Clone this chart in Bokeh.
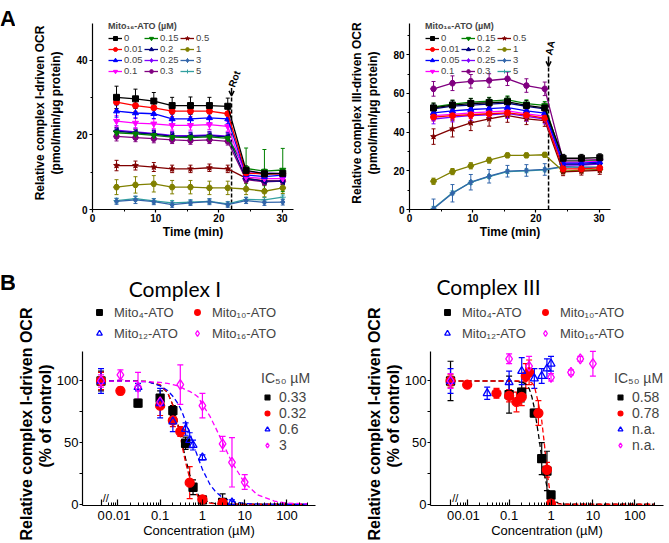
import math
from bokeh.plotting import figure
from bokeh.models import (ColumnDataSource, Whisker, TeeHead, Legend, LegendItem, Label, Title,
                          FixedTicker, Range1d, Arrow, OpenHead)
from bokeh.layouts import row, column
from bokeh.embed import file_html
from bokeh.resources import INLINE

FONT = "Liberation Sans"

# ---------------- Panel A data: OCR traces (pmol/min/ug protein) ----------------
times = [3.8, 6.8, 9.7, 12.6, 15.5, 18.5, 21.4, 24.3, 27.2, 30.1]
doses = ["0", "0.01", "0.05", "0.1", "0.15", "0.2", "0.25", "0.3", "0.5", "1", "3", "5"]
rot_time = 22.0
rot_top = 30.5
aa_time = 22.0
aa_top = 74.0

# complex I-driven OCR
ocr1_d0 = [30.1, 29.7, 29.1, 27.9, 27.9, 27.9, 27.7, 10.5, 9.6, 9.7]
ocr1_d001 = [28.8, 27.9, 27.3, 26.4, 26.4, 26.4, 25.7, 9.8, 9.5, 9.6]
ocr1_d005 = [26.4, 25.9, 25.7, 24.3, 24.3, 24.6, 24.3, 9.3, 8.8, 9.2]
ocr1_d01 = [23.7, 23.2, 23.0, 22.6, 22.6, 22.8, 22.3, 8.7, 8.3, 8.3]
ocr1_d015 = [20.6, 20.3, 19.9, 19.4, 19.3, 19.5, 19.1, 11.0, 10.3, 10.6]
ocr1_d02 = [21.0, 20.6, 20.2, 19.7, 19.6, 19.8, 19.5, 8.3, 7.6, 7.6]
ocr1_d025 = [21.3, 20.8, 20.4, 19.9, 19.8, 20.0, 19.7, 10.2, 9.8, 9.6]
ocr1_d03 = [19.6, 19.3, 19.0, 18.7, 18.5, 18.7, 18.3, 8.0, 7.4, 7.6]
ocr1_d05 = [11.8, 11.8, 11.4, 10.9, 10.9, 11.2, 10.9, 8.4, 7.7, 7.7]
ocr1_d1 = [6.0, 6.6, 6.9, 6.0, 6.0, 5.8, 5.8, 5.5, 4.9, 5.8]
ocr1_d3 = [2.2, 2.6, 2.1, 1.3, 1.8, 2.1, 1.3, 2.4, 1.9, 2.0]
ocr1_d5 = [2.4, 2.9, 2.3, 1.8, 2.0, 2.2, 1.5, 2.7, 2.6, 3.3]

sd1_d0 = [3.0, 2.6, 2.3, 2.2, 2.3, 2.2, 2.2, 1.2, 1.2, 1.2]
sd1_d001 = [1.8, 1.6, 1.5, 1.5, 1.5, 1.5, 1.5, 1.0, 1.0, 1.0]
sd1_d005 = [1.6, 1.4, 1.3, 1.3, 1.3, 1.3, 1.3, 1.0, 1.0, 1.0]
sd1_d01 = [1.5, 1.4, 1.3, 1.3, 1.3, 1.3, 1.3, 1.0, 0.9, 0.9]
sd1_d015 = [1.2, 1.1, 1.0, 1.0, 1.0, 1.0, 1.0, 5.5, 5.8, 5.8]
sd1_d02 = [1.0, 1.0, 1.0, 1.0, 1.0, 1.0, 1.0, 0.8, 0.8, 0.8]
sd1_d025 = [1.2, 1.1, 1.0, 1.0, 1.0, 1.0, 1.0, 0.9, 0.9, 0.9]
sd1_d03 = [1.2, 1.1, 1.1, 1.0, 1.0, 1.0, 1.0, 0.9, 0.9, 0.9]
sd1_d05 = [1.4, 1.2, 1.2, 1.0, 1.0, 1.0, 1.0, 1.0, 1.0, 1.0]
sd1_d1 = [2.0, 2.2, 2.2, 1.8, 1.8, 1.8, 1.8, 1.5, 1.5, 1.5]
sd1_d3 = [0.8, 1.0, 0.8, 0.7, 0.7, 0.8, 0.7, 0.8, 0.8, 0.8]
sd1_d5 = [0.6, 0.6, 0.6, 0.6, 0.6, 0.6, 0.6, 0.6, 0.6, 0.6]

# complex III-driven OCR
ocr3_d0 = [52.5, 54.0, 54.8, 55.2, 55.7, 53.8, 52.5, 26.5, 26.5, 26.8]
ocr3_d001 = [47.8, 48.5, 49.0, 49.5, 50.0, 48.8, 47.3, 21.0, 21.0, 21.5]
ocr3_d005 = [50.0, 51.0, 51.7, 52.2, 52.7, 51.0, 49.8, 24.0, 24.0, 24.5]
ocr3_d01 = [48.5, 49.2, 50.0, 50.5, 51.0, 49.5, 48.3, 24.5, 24.5, 25.0]
ocr3_d015 = [53.0, 54.5, 55.5, 56.0, 56.7, 54.7, 53.8, 25.0, 25.0, 25.3]
ocr3_d02 = [52.0, 53.5, 54.0, 54.5, 55.0, 53.3, 52.0, 23.5, 23.5, 23.8]
ocr3_d025 = [46.8, 47.8, 48.6, 49.0, 49.6, 48.2, 46.8, 23.0, 23.0, 23.5]
ocr3_d03 = [62.4, 65.3, 66.3, 66.7, 67.6, 64.1, 62.4, 25.5, 25.5, 25.8]
ocr3_d05 = [37.7, 41.7, 44.8, 46.9, 48.6, 46.9, 46.0, 19.5, 19.8, 20.2]
ocr3_d1 = [14.6, 19.6, 22.6, 25.5, 28.0, 28.0, 28.3, 19.8, 20.3, 20.8]
ocr3_d3 = [0.4, 8.4, 14.1, 17.2, 19.8, 20.2, 20.7, 22.2, 21.9, 21.9]
ocr3_d5 = [0.6, 8.6, 14.0, 17.0, 19.6, 20.0, 20.5, 22.0, 21.8, 21.8]

sd3_d0 = [2.5, 2.5, 2.5, 2.5, 2.5, 2.5, 2.5, 2.0, 2.0, 2.0]
sd3_d001 = [2.0, 2.0, 2.0, 2.0, 2.0, 2.0, 2.0, 1.5, 1.5, 1.5]
sd3_d005 = [2.0, 2.0, 2.0, 2.0, 2.0, 2.0, 2.0, 1.5, 1.5, 1.5]
sd3_d01 = [2.5, 2.5, 2.5, 2.5, 2.5, 2.5, 2.5, 1.5, 1.5, 1.5]
sd3_d015 = [2.0, 2.0, 2.0, 2.0, 2.0, 2.0, 2.0, 1.5, 1.5, 1.5]
sd3_d02 = [2.0, 2.0, 2.0, 2.0, 2.0, 2.0, 2.0, 1.5, 1.5, 1.5]
sd3_d025 = [2.5, 2.5, 2.5, 2.5, 2.5, 2.5, 2.5, 1.5, 1.5, 1.5]
sd3_d03 = [3.8, 3.8, 3.5, 3.5, 3.5, 3.5, 3.5, 2.0, 2.0, 2.0]
sd3_d05 = [4.0, 4.2, 4.0, 3.8, 3.5, 3.0, 3.0, 2.0, 2.0, 2.0]
sd3_d1 = [1.6, 1.6, 1.6, 1.5, 1.2, 1.2, 1.2, 1.0, 1.0, 1.0]
sd3_d3 = [5.0, 4.5, 4.0, 3.5, 3.0, 3.0, 3.0, 1.0, 1.0, 1.0]
sd3_d5 = [1.0, 1.0, 1.0, 1.0, 1.0, 1.0, 1.0, 1.0, 1.0, 1.0]

# ---------------- Panel B data: dose response (% of control) ----------------
CTRL = 0.004  # position used for the "0" (control) concentration
b_names = ["Mito\u2084-ATO", "Mito\u2081\u2080-ATO", "Mito\u2081\u2082-ATO", "Mito\u2081\u2086-ATO"]
ic50_ci = ["0.33", "0.32", "0.6", "3"]
ic50_ciii = ["0.58", "0.78", "n.a.", "n.a."]
b_ticks = [CTRL, 0.01, 0.1, 1, 10, 100]
b_tick_labels = ["0", "0.01", "0.1", "1", "10", "100"]

ci_m4_x = [CTRL, 0.03, 0.1, 0.2, 0.4, 0.6, 1.0, 3.0]
ci_m4_y = [100, 82, 86, 76, 49.5, 13.8, 3.5, 1.5]
ci_m4_e = [8, 3, 6, 4, 5, 6, 3, 7]
ci_m10_x = [CTRL, 0.0115, 0.1, 0.2, 0.3, 0.5, 1.0, 3.0]
ci_m10_y = [100, 92, 80, 68, 59, 17.5, 4, 1.2]
ci_m10_e = [7, 3, 8, 5, 4, 13, 3, 2]
ci_m12_x = [CTRL, 0.03, 0.1, 0.2, 0.4, 0.5, 0.6, 1.0, 5.0]
ci_m12_y = [100, 95, 82, 67, 61, 52, 48, 38, 1.5]
ci_m12_e = [10, 3, 12, 8, 5, 6, 4, 2, 2]
ci_m16_x = [CTRL, 0.0115, 0.03, 0.1, 0.3, 1.0, 3.0, 5.0, 10.0]
ci_m16_y = [100, 105, 95, 83, 97, 80, 49, 34, 18]
ci_m16_e = [5, 4, 12, 5, 16, 10, 6, 20, 6]

ciii_m4_x = [CTRL, 0.1, 0.2, 0.4, 0.6, 0.8, 1.0]
ciii_m4_y = [100, 89, 91, 74, 37, 27, 7.5]
ciii_m4_e = [16, 15, 8, 3, 13, 16, 3]
ciii_m10_x = [CTRL, 0.01, 0.05, 0.1, 0.15, 0.2, 0.25, 0.3, 0.5, 0.8, 1.0]
ciii_m10_y = [100, 97, 90, 88, 83, 87, 104, 107, 74, 28, 0.5]
ciii_m10_e = [5, 2, 4, 5, 8, 7, 10, 10, 10, 6, 2]
ciii_m12_x = [CTRL, 0.03, 0.1, 0.2, 0.4, 0.6, 0.8, 1.0]
ciii_m12_y = [100, 90, 99, 108, 102, 104, 110, 114]
ciii_m12_e = [10, 5, 9, 11, 8, 6, 8, 6]
ciii_m16_x = [CTRL, 0.1, 0.3, 1.0, 3.0, 5.0, 10.0]
ciii_m16_y = [100, 118, 112, 103, 107, 118, 114]
ciii_m16_e = [6, 4, 8, 3, 2, 2, 10]

# dashed fitted curves
fit_x = [CTRL, 0.01, 0.02, 0.05, 0.1, 0.15, 0.2, 0.25, 0.3, 0.35, 0.4, 0.5, 0.6, 0.7, 0.8,
         1, 1.5, 2, 3, 5, 10, 20, 50, 100, 300]
ci_fit_m4 = [100, 100, 100, 99.6, 96.5, 90.5, 80.5, 68.5, 57, 46, 37, 24, 16, 11, 7.5,
             4.4, 1.4, 0.6, 0.2, 0, 0, 0, 0, 0, 0]
ci_fit_m10 = [100, 100, 100, 99.6, 97, 90.6, 80.4, 67.6, 55, 43.3, 34, 21, 13, 9, 6,
              3.2, 1, 0.4, 0.1, 0, 0, 0, 0, 0, 0]
ci_fit_m12 = [100, 100, 99.9, 99.4, 96.1, 92.3, 87.6, 82.9, 77.9, 72.6, 67.2, 58.2, 50, 42.8, 37.3,
              28.3, 16.2, 10.6, 5.3, 2.3, 0.6, 0.2, 0, 0, 0]
ci_fit_m16 = [100, 99.9, 99.8, 99.5, 98.8, 98.0, 97.1, 96.2, 95.1, 94.0, 92.8, 91.6, 89.9, 88.4, 86.8,
              80.9, 71.5, 62.9, 50, 33.9, 17.3, 7.7, 2.6, 1.0, 0.3]
ciii_fit_m4 = [100, 100, 100, 100, 100, 99.8, 99.3, 97.5, 94, 87, 78, 57, 38, 24, 14,
               5, 0.8, 0.2, 0, 0, 0, 0, 0, 0, 0]
ciii_fit_m10 = [100, 100, 100, 100, 100, 100, 100, 99.8, 99.4, 98.5, 96, 82, 68, 48, 27,
                4, 0.3, 0, 0, 0, 0, 0, 0, 0, 0]

# ---------------- styles ----------------
dose_colors = ["#000000", "#ff0000", "#0000ff", "#ff00ff", "#008000", "#000080",
               "#8000ff", "#800080", "#800000", "#808000", "#3366aa", "#33a0a0"]
dose_markers = ["square", "circle", "triangle", "inverted_triangle", "inverted_triangle", "triangle",
                "diamond", "hex", "star", "hex", "diamond_cross", "cross"]
dose_angles = [0, 0, 0, 0, 0, math.pi / 2, 0, 0, 0, 0, 0, 0]
b_colors = ["#000000", "#ff0000", "#0000ff", "#ff00ff"]
b_markers = ["square", "circle", "triangle", "diamond"]
b_filled = [True, True, False, False]
b_sizes = [8, 9, 8, 10]

ocr1 = [ocr1_d0, ocr1_d001, ocr1_d005, ocr1_d01, ocr1_d015, ocr1_d02, ocr1_d025, ocr1_d03,
        ocr1_d05, ocr1_d1, ocr1_d3, ocr1_d5]
sd1 = [sd1_d0, sd1_d001, sd1_d005, sd1_d01, sd1_d015, sd1_d02, sd1_d025, sd1_d03,
       sd1_d05, sd1_d1, sd1_d3, sd1_d5]
ocr3 = [ocr3_d0, ocr3_d001, ocr3_d005, ocr3_d01, ocr3_d015, ocr3_d02, ocr3_d025, ocr3_d03,
        ocr3_d05, ocr3_d1, ocr3_d3, ocr3_d5]
sd3 = [sd3_d0, sd3_d001, sd3_d005, sd3_d01, sd3_d015, sd3_d02, sd3_d025, sd3_d03,
       sd3_d05, sd3_d1, sd3_d3, sd3_d5]


def base_fig(width, height, bl, br, bt, bb, xr, yr, xtype="linear"):
    p = figure(width=width, height=height, x_range=xr, y_range=yr, x_axis_type=xtype,
               toolbar_location=None, output_backend="svg", frame_align=False,
               min_border_left=bl, min_border_right=br, min_border_top=bt, min_border_bottom=bb)
    p.xgrid.visible = False
    p.ygrid.visible = False
    p.outline_line_color = None
    p.background_fill_color = "white"
    p.border_fill_color = "white"
    return p


def blank_fig(width, height):
    p = figure(width=width, height=height, x_range=Range1d(0, width), y_range=Range1d(0, height),
               toolbar_location=None, output_backend="svg", x_axis_location=None,
               y_axis_location=None, frame_align=False, min_border=0, min_border_left=0,
               min_border_right=0, min_border_top=0, min_border_bottom=0)
    p.xgrid.visible = False
    p.ygrid.visible = False
    p.outline_line_color = None
    p.background_fill_color = "white"
    p.border_fill_color = "white"
    return p


def style_axis(ax, size, bold, tin, tout, mtin, mtout, standoff):
    ax.axis_line_color = "black"
    ax.axis_line_width = 1.2
    ax.major_tick_line_color = "black"
    ax.major_tick_line_width = 1.2
    ax.minor_tick_line_color = "black"
    ax.minor_tick_line_width = 1
    ax.major_tick_in = tin
    ax.major_tick_out = tout
    ax.minor_tick_in = mtin
    ax.minor_tick_out = mtout
    ax.major_label_text_font = FONT
    ax.major_label_text_font_size = size
    ax.major_label_text_font_style = "bold" if bold else "normal"
    ax.major_label_text_color = "black"
    ax.major_label_standoff = standoff


def style_axis_label(ax, text, size, style, standoff):
    ax.axis_label = text
    ax.axis_label_text_font = FONT
    ax.axis_label_text_font_size = size
    ax.axis_label_text_font_style = style
    ax.axis_label_text_color = "black"
    ax.axis_label_standoff = standoff


def add_label(p, x, y, text, size, style="normal", font=FONT, angle=0.0,
              align="center", baseline="middle"):
    p.add_layout(Label(x=x, y=y, text=text, text_font=font,
                       text_font_size=size, text_font_style=style, angle=angle,
                       text_align=align, text_baseline=baseline, text_color="black"))


def add_errorbars(p, x, y, e, color, head=4, width=1.0):
    src = ColumnDataSource(dict(x=list(x), lo=[a - b for a, b in zip(y, e)],
                                hi=[a + b for a, b in zip(y, e)]))
    p.add_layout(Whisker(source=src, base="x", lower="lo", upper="hi", dimension="height",
                         line_color=color, line_width=width,
                         upper_head=TeeHead(size=head, line_color=color, line_width=width),
                         lower_head=TeeHead(size=head, line_color=color, line_width=width)))


def panel_a(width, bl, br, ymax, ybound, yticks, yminor, means, sds, ev_x, ev_top, ev_text,
            ev_angle, ylabel):
    p = base_fig(width, 254, bl, br, 16, 45, Range1d(0, 31.8), Range1d(0, ymax))
    style_axis(p.xaxis[0], "10px", True, 0, 3, 0, 2, 1)
    style_axis(p.yaxis[0], "10px", True, 0, 3, 0, 2, 2)
    p.yaxis.bounds = (0, ybound)
    p.xaxis.ticker = FixedTicker(ticks=[0, 10, 20, 30], minor_ticks=[5, 15, 25])
    p.yaxis.ticker = FixedTicker(ticks=yticks, minor_ticks=yminor)
    style_axis_label(p.xaxis[0], "Time (min)", "12px", "bold", 0)
    style_axis_label(p.yaxis[0], ylabel, "12px", "bold", 10)

    # injection marker
    p.segment(x0=[ev_x], y0=[0], x1=[ev_x], y1=[ev_top], line_dash="4 2", line_width=1.5,
              line_color="black")
    p.add_layout(Arrow(x_start=ev_x, y_start=ev_top * 1.07, x_end=ev_x, y_end=ev_top,
                       end=OpenHead(size=5, line_width=1.5), line_width=1.5))
    add_label(p, ev_x, ev_top * 1.08, ev_text, "10px", style="bold", angle=ev_angle,
              align="left", baseline="middle")

    rends = {}
    for i in reversed(range(len(doses))):
        c = dose_colors[i]
        add_errorbars(p, times, means[i], sds[i], c, head=4, width=1.0)
        l = p.line(times, means[i], line_color=c, line_width=1.3)
        s = p.scatter(times, means[i], marker=dose_markers[i], size=6, fill_color=c,
                      line_color=c, angle=dose_angles[i])
        rends[i] = [l, s]
    items = [LegendItem(label=doses[i], renderers=rends[i]) for i in range(len(doses))]
    leg = Legend(items=items, location=(16, 133), ncols=3, title="Mito\u2081\u2086-ATO (\u00b5M)",
                 title_text_font=FONT, title_text_font_size="9px", title_text_font_style="bold",
                 title_standoff=1, label_text_font=FONT, label_text_font_size="9.5px",
                 glyph_width=14, glyph_height=10, label_height=10, label_standoff=2,
                 spacing=0, padding=0, margin=0, background_fill_alpha=0, border_line_alpha=0)
    p.add_layout(leg)
    return p


def side_title(p, text, offset):
    p.add_layout(Title(text=text, align="left", offset=offset, standoff=0,
                       text_font=FONT, text_font_size="16px", text_font_style="bold",
                       text_color="black"), "left")


def panel_b(width, bl, br, xr, xs, ys, es, fits, ic50, ic_x, leg_x, title, title_x, title_y):
    # frame reaches up to the title; the y axis itself is bounded to the data span
    p = base_fig(width, 287, bl, br, 8, 36, xr, Range1d(-1.0, 196.1), xtype="log")
    style_axis(p.xaxis[0], "13px", False, 6, 0, 3, 0, 5)
    style_axis(p.yaxis[0], "13px", False, 0, 3, 0, 3, 1)
    p.yaxis.bounds = (-1.0, 124.1)
    minors = [m * 10.0 ** k for k in range(-3, 3) for m in range(2, 10)
              if 0.0055 < m * 10.0 ** k < 400]
    p.xaxis.ticker = FixedTicker(ticks=b_ticks, minor_ticks=minors)
    p.xaxis.major_label_overrides = {t: s for t, s in zip(b_ticks, b_tick_labels)}
    p.yaxis.ticker = FixedTicker(ticks=[0, 50, 100], minor_ticks=[25, 75])
    style_axis_label(p.xaxis[0], "Concentration (\u00b5M)", "13px", "normal", 0)
    side_title(p, "(% of control)", 38)
    side_title(p, "Relative complex I-driven OCR", -35)

    for fy, c in zip(fits, b_colors):
        p.line(fit_x, fy, line_color=c, line_dash="5 3", line_width=1.3)

    rends = []
    for i in range(4):
        c = b_colors[i]
        add_errorbars(p, xs[i], ys[i], es[i], c, head=6, width=1.2)
        s = p.scatter(xs[i], ys[i], marker=b_markers[i], size=b_sizes[i],
                      fill_color=c if b_filled[i] else None, line_color=c, line_width=1.3)
        rends.append(s)

    leg1 = Legend(items=[LegendItem(label=b_names[i], renderers=[rends[i]]) for i in range(4)],
                  location=(leg_x, 164), orientation="horizontal", ncols=2,
                  label_text_font=FONT, label_text_font_size="13px",
                  glyph_width=14, glyph_height=16, label_height=16, label_width=71,
                  label_standoff=8, spacing=5, padding=0, margin=0,
                  background_fill_alpha=0, border_line_alpha=0)
    p.add_layout(leg1)
    leg2 = Legend(items=[LegendItem(label=ic50[i], renderers=[rends[i]]) for i in range(4)],
                  location=(ic_x, 52), title="IC\u2085\u2080 \u00b5M", title_text_font=FONT,
                  title_text_font_size="14px", title_text_font_style="normal", title_standoff=3,
                  label_text_font=FONT, label_text_font_size="14px",
                  glyph_width=12, glyph_height=16, label_height=16, label_standoff=6,
                  spacing=0, padding=0, margin=0, background_fill_alpha=0, border_line_alpha=0)
    p.add_layout(leg2)
    add_label(p, title_x, title_y, title, "21px", font="Lato")
    add_label(p, 0.0052, 0, "//", "11px", baseline="bottom")
    return p


letters = blank_fig(15, 541)
add_label(letters, 7.5, 523, "A", "22px", style="bold")
add_label(letters, 7.5, 259, "B", "22px", style="bold")

a1 = panel_a(315, 77, 37, 51.8, 50, [0, 20, 40], [10, 30], ocr1, sd1, rot_time, rot_top, "Rot",
             math.radians(70), "Relative complex I-driven OCR\n(pmol/min/\u00b5g protein)")
a2 = panel_a(337, 79, 57, 99.8, 96, [0, 20, 40, 60, 80], [10, 30, 50, 70, 90], ocr3, sd3,
             aa_time, aa_top, "AA", math.radians(78),
             "Relative complex III-driven OCR\n(pmol/min/\u00b5g protein)")

b1 = panel_b(315, 63, 15, Range1d(0.00146, 472),
             [ci_m4_x, ci_m10_x, ci_m12_x, ci_m16_x], [ci_m4_y, ci_m10_y, ci_m12_y, ci_m16_y],
             [ci_m4_e, ci_m10_e, ci_m12_e, ci_m16_e],
             [ci_fit_m4, ci_fit_m10, ci_fit_m12, ci_fit_m16], ic50_ci, 179, 10,
             "Complex I", 0.2245, 175.0)
b2 = panel_b(337, 100, 4, Range1d(0.00133, 484),
             [ciii_m4_x, ciii_m10_x, ciii_m12_x, ciii_m16_x],
             [ciii_m4_y, ciii_m10_y, ciii_m12_y, ciii_m16_y],
             [ciii_m4_e, ciii_m10_e, ciii_m12_e, ciii_m16_e],
             [ciii_fit_m4, ciii_fit_m10], ic50_ciii, 184, 10,
             "Complex III", 0.0322, 176.6)

layout = row(letters, column(row(a1, a2), row(b1, b2)))
open("out.html", "w").write(file_html(layout, INLINE))
